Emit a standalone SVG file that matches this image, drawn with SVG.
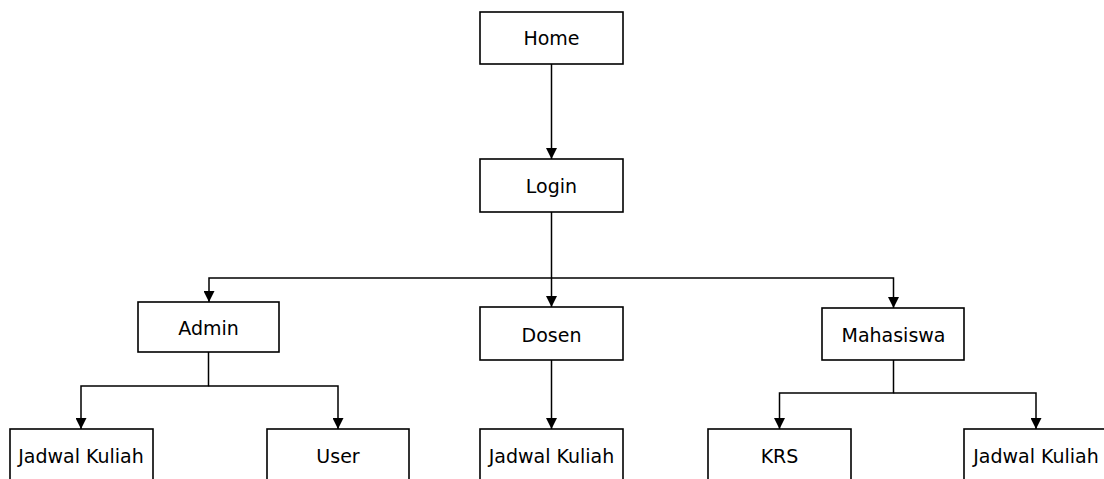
<svg xmlns="http://www.w3.org/2000/svg" width="1104" height="479" viewBox="0 0 1104 479">
<style>
.box{fill:#fff;stroke:#000;stroke-width:1.6}
.lbl{font-family:"DejaVu Sans",sans-serif;font-size:19px;fill:#000;text-anchor:middle}
.con{fill:none;stroke:#000;stroke-width:1.5}
</style>
<defs>
<marker id="ah" markerWidth="11" markerHeight="11" refX="11" refY="5.5" orient="auto" markerUnits="userSpaceOnUse" viewBox="0 0 11 11">
<path d="M0,0 L11,5.5 L0,11 Z" fill="#000"/>
</marker>
</defs>
<rect width="1104" height="479" fill="#fff"/>
<g id="connectors">
<path class="con" d="M551.5,64 V159" marker-end="url(#ah)"/>
<path class="con" d="M551.5,212 V307" marker-end="url(#ah)"/>
<path class="con" d="M551.5,278 H209 V302" marker-end="url(#ah)"/>
<path class="con" d="M551.5,278 H893.5 V308" marker-end="url(#ah)"/>
<path class="con" d="M208.5,352 V386 H81 V429" marker-end="url(#ah)"/>
<path class="con" d="M208.5,386 H338 V429" marker-end="url(#ah)"/>
<path class="con" d="M551.5,360 V429" marker-end="url(#ah)"/>
<path class="con" d="M893.5,360 V393 H779.5 V429" marker-end="url(#ah)"/>
<path class="con" d="M893.5,393 H1036 V429" marker-end="url(#ah)"/>
</g>
<g id="home"><rect class="box" x="480" y="12" width="143" height="52"/><text class="lbl" x="551.5" y="45">Home</text></g>
<g id="login"><rect class="box" x="480" y="159" width="143" height="53"/><text class="lbl" x="551.5" y="193">Login</text></g>
<g id="admin"><rect class="box" x="138" y="302" width="141" height="50"/><text class="lbl" x="208.5" y="335">Admin</text></g>
<g id="dosen"><rect class="box" x="480" y="307" width="143" height="53"/><text class="lbl" x="551.5" y="342">Dosen</text></g>
<g id="mahasiswa"><rect class="box" x="822" y="308" width="142" height="52"/><text class="lbl" x="893.5" y="342">Mahasiswa</text></g>
<g id="admin-jadwal"><rect class="box" x="10" y="429" width="143" height="60"/><text class="lbl" x="81" y="463">Jadwal Kuliah</text></g>
<g id="admin-user"><rect class="box" x="267" y="429" width="142" height="60"/><text class="lbl" x="338" y="463">User</text></g>
<g id="dosen-jadwal"><rect class="box" x="480" y="429" width="143" height="60"/><text class="lbl" x="551.5" y="463">Jadwal Kuliah</text></g>
<g id="mhs-krs"><rect class="box" x="708" y="429" width="143" height="60"/><text class="lbl" x="779.5" y="463">KRS</text></g>
<g id="mhs-jadwal"><rect class="box" x="964" y="429" width="144" height="60"/><text class="lbl" x="1036" y="463">Jadwal Kuliah</text></g>
</svg>
